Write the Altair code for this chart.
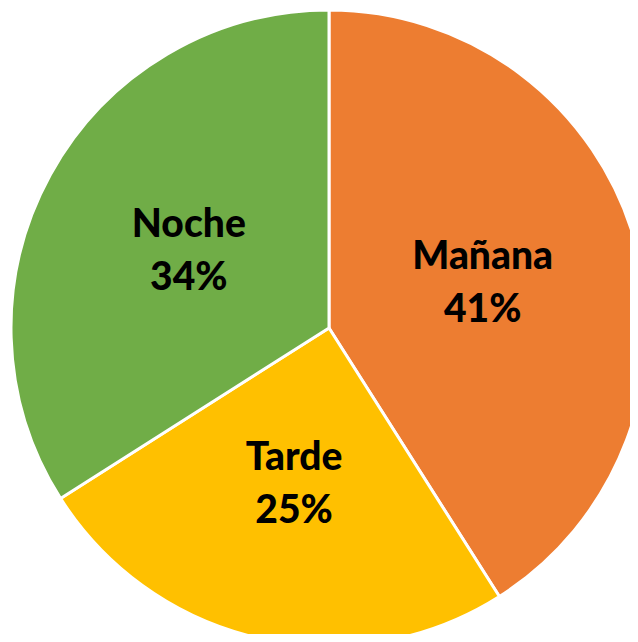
import altair as alt
import pandas as pd

categories = ["Mañana", "Tarde", "Noche"]
values = [41, 25, 34]
colors = ["#ED7D31", "#FFC000", "#70AD47"]

df = pd.DataFrame({
    "cat": categories,
    "val": values,
    "order": list(range(len(categories))),
})
df["label"] = df["cat"] + "\n" + df["val"].astype(str) + "%"

cx, cy = 321, 320

base = alt.Chart(df).encode(
    theta=alt.Theta("val:Q", stack=True),
    order=alt.Order("order:Q"),
    x=alt.value(cx),
    y=alt.value(cy),
)

arcs = base.mark_arc(radius=318, stroke="white", strokeWidth=3).encode(
    color=alt.Color("cat:N", scale=alt.Scale(domain=categories, range=colors), legend=None)
)

texts = base.mark_text(
    radius=160, font="Lato", fontWeight=900, fontSize=39, dy=-26,
    lineBreak="\n", lineHeight=53, color="black", align="center", baseline="middle"
).encode(text="label:N")

chart = (arcs + texts).properties(
    width=622, height=626, padding=0,
    autosize=alt.AutoSizeParams(type="none"),
).configure_view(stroke=None)

chart.save("out.html", embed_options={"renderer": "svg", "actions": False})
